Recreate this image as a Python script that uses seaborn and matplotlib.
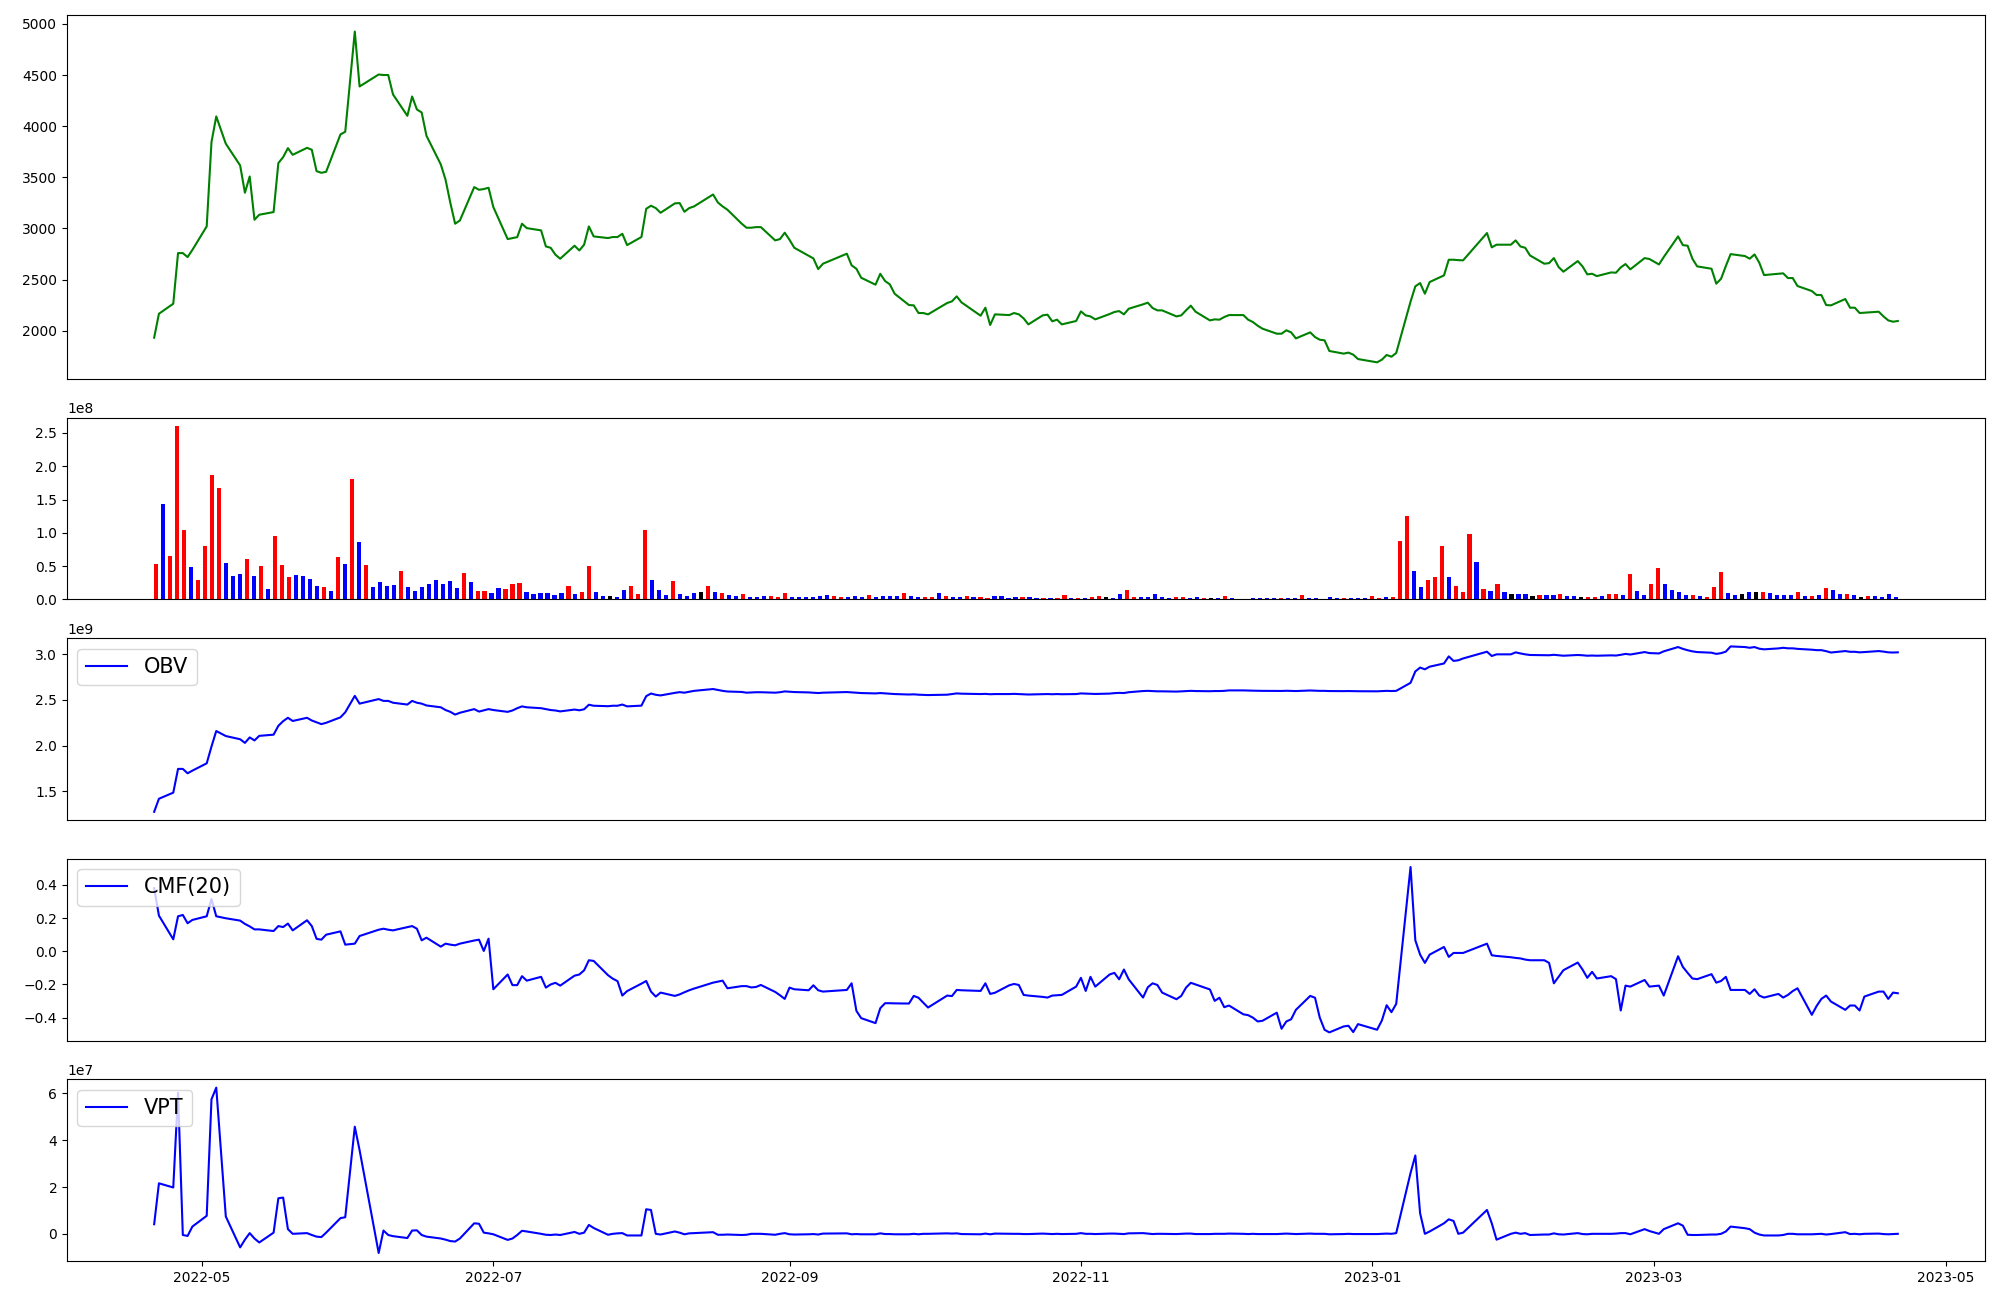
import pandas as pd
import seaborn as sns
import matplotlib
matplotlib.use("Agg")
import matplotlib.pyplot as plt

# KRX trading days, 2022-04-21 .. 2023-04-21
krx_holidays = ["2022-05-05", "2022-06-01", "2022-06-06", "2022-08-15", "2022-09-09",
                "2022-09-12", "2022-10-03", "2022-10-10", "2022-12-30", "2023-01-23",
                "2023-01-24", "2023-03-01"]
dates = pd.bdate_range("2022-04-21", "2023-04-21", freq="C", holidays=krx_holidays)

# closing price
close = [
    1932, 2166, 2264, 2759, 2759, 2720, 2790,
    3020, 3844, 4095, 3828, 3616, 3349, 3508, 3085, 3134, 3160, 3639, 3697, 3785, 3720, 3788, 3769, 3560, 3544, 3554, 3919, 3945,
    4925, 4388, 4505, 4500, 4500, 4310, 4101, 4290, 4163, 4134, 3906, 3626, 3476, 3250, 3046, 3078, 3404, 3378, 3385, 3398,
    3209, 2896, 2905, 2915, 3046, 3003, 2981, 2824, 2811, 2743, 2704, 2831, 2785, 2841, 3020, 2922, 2906, 2916, 2916, 2948, 2837,
    2916, 3192, 3222, 3199, 3153, 3245, 3248, 3163, 3199, 3215, 3332, 3254, 3215, 3183, 3046, 3007, 3007, 3013, 3013, 2883, 2896, 2958,
    2889, 2811, 2733, 2707, 2603, 2655, 2753, 2639, 2606, 2518, 2450, 2557, 2486, 2453, 2362, 2251, 2248, 2173, 2173, 2160,
    2271, 2287, 2336, 2277, 2147, 2225, 2056, 2160, 2153, 2173, 2160, 2121, 2062, 2150, 2157, 2092, 2108, 2062, 2095,
    2189, 2150, 2140, 2111, 2163, 2183, 2192, 2160, 2215, 2258, 2274, 2222, 2199, 2199, 2140, 2150, 2199, 2245, 2186, 2101, 2111, 2108,
    2134, 2153, 2153, 2108, 2085, 2049, 2020, 1971, 1971, 2004, 1984, 1925, 1984, 1938, 1912, 1906, 1802, 1776, 1786, 1766, 1723,
    1691, 1717, 1763, 1746, 1782, 2284, 2434, 2466, 2362, 2476, 2541, 2694, 2694, 2690, 2688, 2955, 2815, 2841, 2841, 2883,
    2824, 2811, 2736, 2655, 2661, 2710, 2622, 2577, 2681, 2629, 2551, 2557, 2534, 2570, 2567, 2619, 2652, 2600, 2710, 2701,
    2648, 2720, 2922, 2837, 2831, 2704, 2629, 2606, 2460, 2508, 2632, 2749, 2730, 2704, 2746, 2665, 2544, 2557, 2561, 2515, 2515, 2437,
    2388, 2349, 2349, 2251, 2248, 2310, 2225, 2225, 2173, 2176, 2186, 2140, 2101, 2088, 2095,
]

# volume (x1e8) and candle colour: r = up, b = down, k = flat
volume = [
    0.53, 1.43, 0.65, 2.60, 1.04, 0.485, 0.29, 0.80, 1.865, 1.67,
    0.545, 0.35, 0.38, 0.605, 0.35, 0.50, 0.155, 0.95, 0.515, 0.335,
    0.365, 0.35, 0.305, 0.20, 0.185, 0.125, 0.635, 0.53, 1.805, 0.86,
    0.515, 0.185, 0.26, 0.20, 0.215, 0.425, 0.185, 0.125, 0.185, 0.23,
    0.29, 0.23, 0.275, 0.17, 0.395, 0.26, 0.125, 0.125, 0.095, 0.17,
    0.155, 0.23, 0.245, 0.11, 0.08, 0.095, 0.095, 0.065, 0.095, 0.20,
    0.08, 0.11, 0.50, 0.11, 0.05, 0.05, 0.035, 0.14, 0.20, 0.08,
    1.04, 0.29, 0.14, 0.065, 0.275, 0.08, 0.05, 0.095, 0.11, 0.20,
    0.11, 0.095, 0.065, 0.05, 0.08, 0.035, 0.035, 0.05, 0.05, 0.035,
    0.095, 0.035, 0.035, 0.035, 0.035, 0.05, 0.065, 0.05, 0.035, 0.035,
    0.05, 0.035, 0.065, 0.035, 0.05, 0.05, 0.05, 0.095, 0.05, 0.035,
    0.035, 0.035, 0.095, 0.05, 0.035, 0.035, 0.05, 0.035, 0.035, 0.02,
    0.05, 0.05, 0.02, 0.035, 0.035, 0.035, 0.02, 0.02, 0.02, 0.02,
    0.065, 0.02, 0.02, 0.02, 0.035, 0.05, 0.035, 0.02, 0.08, 0.14,
    0.035, 0.035, 0.035, 0.08, 0.035, 0.02, 0.035, 0.035, 0.02, 0.035,
    0.02, 0.02, 0.02, 0.05, 0.02, 0.005, 0.005, 0.02, 0.02, 0.02,
    0.02, 0.02, 0.02, 0.02, 0.065, 0.02, 0.02, 0.005, 0.035, 0.02,
    0.02, 0.02, 0.02, 0.02, 0.05, 0.02, 0.035, 0.035, 0.875, 1.25,
    0.425, 0.185, 0.29, 0.335, 0.80, 0.335, 0.20, 0.11, 0.98, 0.56,
    0.155, 0.125, 0.23, 0.11, 0.08, 0.08, 0.08, 0.05, 0.065, 0.065,
    0.065, 0.08, 0.05, 0.05, 0.035, 0.035, 0.035, 0.05, 0.08, 0.08,
    0.065, 0.38, 0.125, 0.065, 0.23, 0.47, 0.23, 0.14, 0.11, 0.065,
    0.065, 0.05, 0.035, 0.185, 0.41, 0.095, 0.065, 0.08, 0.11, 0.11,
    0.11, 0.095, 0.065, 0.065, 0.065, 0.11, 0.05, 0.05, 0.065, 0.17,
    0.14, 0.08, 0.08, 0.065, 0.035, 0.05, 0.05, 0.035, 0.08, 0.035,
]
candle = ("rbrrrbrrrr" "bbbrbrbrrr" "bbbbrbrbrb" "rbbbbrbbbb" "bbbbrbrrbb"
          "rrrbbbbbbr" "brrbbkbbrr" "rbbbrbbbkr" "brbbrbbbrr" "rbbbbbbrrb"
          "bbrbbbbrbb" "rrbrbbrbrr" "bbbbrbbrbr" "rbrbrrkbbr" "rbbbbbrrbb"
          "rkbrbbbbbb" "brbbrbbbbb" "rbbbrrbrrr" "bbrrrbrrrb" "rbrbkbbkrb"
          "brbbkrrbrr" "brbbrrbbbb" "rbrrrbbkbk" "rbbbbrbrbr" "bbrbkrbbbb")

# on-balance volume (x1e9)
obv = [
    1.275, 1.418, 1.485, 1.745, 1.745, 1.697, 1.726,
    1.806, 1.99, 2.16, 2.105, 2.07, 2.03, 2.09, 2.057, 2.107, 2.12, 2.217, 2.268, 2.305, 2.27, 2.305, 2.275, 2.255, 2.236, 2.25, 2.31, 2.365,
    2.545, 2.46, 2.51, 2.49, 2.49, 2.47, 2.45, 2.49, 2.47, 2.46, 2.44, 2.42, 2.39, 2.37, 2.34, 2.36, 2.40, 2.373, 2.386, 2.40,
    2.39, 2.37, 2.385, 2.41, 2.43, 2.42, 2.41, 2.40, 2.39, 2.385, 2.375, 2.395, 2.387, 2.398, 2.448, 2.437, 2.432, 2.437, 2.437, 2.45, 2.43,
    2.438, 2.542, 2.571, 2.557, 2.55, 2.578, 2.586, 2.58, 2.59, 2.60, 2.62, 2.61, 2.60, 2.593, 2.588, 2.58, 2.583, 2.585, 2.585, 2.58, 2.585, 2.594,
    2.59, 2.587, 2.583, 2.58, 2.576, 2.58, 2.587, 2.583, 2.58, 2.576, 2.572, 2.576, 2.572, 2.569, 2.565, 2.56, 2.562, 2.558, 2.556, 2.554,
    2.558, 2.565, 2.572, 2.569, 2.565, 2.567, 2.563, 2.565, 2.565, 2.567, 2.565, 2.563, 2.56, 2.563, 2.565, 2.563, 2.565, 2.563, 2.565,
    2.572, 2.57, 2.568, 2.566, 2.57, 2.575, 2.578, 2.576, 2.585, 2.598, 2.60, 2.597, 2.595, 2.595, 2.592, 2.595, 2.598, 2.60, 2.598, 2.596, 2.598, 2.598,
    2.60, 2.605, 2.605, 2.603, 2.602, 2.601, 2.60, 2.599, 2.599, 2.601, 2.60, 2.598, 2.604, 2.602, 2.60, 2.60, 2.598, 2.597, 2.598, 2.597, 2.596,
    2.595, 2.597, 2.60, 2.598, 2.60, 2.688, 2.813, 2.855, 2.836, 2.865, 2.90, 2.978, 2.928, 2.935, 2.955, 3.029, 2.982, 3.0, 3.0, 3.022,
    3.01, 3.0, 2.993, 2.99, 2.99, 2.995, 2.99, 2.985, 2.993, 2.99, 2.985, 2.987, 2.985, 2.989, 2.987, 2.995, 3.005, 2.998, 3.025, 3.014,
    3.01, 3.033, 3.08, 3.06, 3.045, 3.033, 3.025, 3.018, 3.005, 3.013, 3.03, 3.087, 3.08, 3.072, 3.08, 3.062, 3.055, 3.065, 3.072, 3.066, 3.066, 3.06,
    3.051, 3.046, 3.046, 3.035, 3.02, 3.036, 3.028, 3.028, 3.022, 3.025, 3.036, 3.03, 3.022, 3.02, 3.022,
]

# Chaikin money flow, 20 days
cmf = [
    0.38, 0.215, 0.072, 0.211, 0.219, 0.169, 0.189,
    0.211, 0.315, 0.211, 0.199, 0.185, 0.165, 0.15, 0.132, 0.132, 0.122, 0.152, 0.146, 0.167, 0.126, 0.187, 0.152, 0.075, 0.07, 0.10, 0.12, 0.04,
    0.046, 0.092, 0.13, 0.136, 0.13, 0.126, 0.145, 0.152, 0.136, 0.066, 0.082, 0.028, 0.046, 0.04, 0.036, 0.046, 0.065, 0.07, 0.002, 0.076,
    -0.229, -0.14, -0.204, -0.204, -0.15, -0.177, -0.154, -0.219, -0.20, -0.19, -0.207, -0.147, -0.14, -0.115, -0.054, -0.058, -0.144, -0.165, -0.18, -0.267, -0.24,
    -0.195, -0.179, -0.243, -0.273, -0.249, -0.269, -0.26, -0.247, -0.235, -0.225, -0.189, -0.183, -0.177, -0.223, -0.21, -0.21, -0.218, -0.215, -0.203, -0.245, -0.265, -0.287,
    -0.219, -0.229, -0.235, -0.205, -0.235, -0.243, -0.233, -0.193, -0.359, -0.403, -0.433, -0.343, -0.313, -0.313, -0.314, -0.315, -0.269, -0.28, -0.31, -0.339,
    -0.267, -0.27, -0.233, -0.235, -0.239, -0.193, -0.257, -0.25, -0.205, -0.197, -0.203, -0.263, -0.267, -0.275, -0.279, -0.267, -0.265, -0.263, -0.213,
    -0.160, -0.239, -0.154, -0.213, -0.14, -0.13, -0.169, -0.11, -0.169, -0.279, -0.217, -0.193, -0.203, -0.249, -0.289, -0.269, -0.219, -0.19, -0.20, -0.23, -0.299, -0.28,
    -0.337, -0.327, -0.38, -0.385, -0.40, -0.423, -0.419, -0.37, -0.467, -0.423, -0.41, -0.353, -0.269, -0.28, -0.40, -0.473, -0.489, -0.453, -0.449, -0.487, -0.439,
    -0.473, -0.417, -0.325, -0.367, -0.317, 0.508, 0.066, -0.02, -0.07, -0.02, 0.026, -0.034, -0.01, -0.01, -0.01, 0.046, -0.024, -0.028, -0.036, -0.04,
    -0.043, -0.05, -0.054, -0.054, -0.07, -0.193, -0.154, -0.114, -0.068, -0.11, -0.16, -0.124, -0.164, -0.15, -0.168, -0.357, -0.207, -0.213, -0.173, -0.213,
    -0.207, -0.267, -0.03, -0.094, -0.13, -0.164, -0.168, -0.138, -0.189, -0.179, -0.154, -0.233, -0.233, -0.257, -0.229, -0.267, -0.279, -0.257, -0.279, -0.263, -0.24, -0.223,
    -0.383, -0.33, -0.287, -0.267, -0.303, -0.353, -0.327, -0.327, -0.357, -0.273, -0.243, -0.243, -0.287, -0.249, -0.253,
]

# volume price trend (x1e7)
vpt = [
    0.41, 2.16, 1.98, 6.03, -0.05, -0.09, 0.31,
    0.77, 5.75, 6.25, 0.74, -0.58, -0.25, 0.03, -0.2, -0.37, 0.05, 1.52, 1.55, 0.2, 0.0, 0.03, -0.05, -0.12, -0.14, 0.05, 0.67, 0.71,
    4.58, 3.58, -0.82, 0.14, -0.05, -0.1, -0.18, 0.14, 0.15, -0.05, -0.12, -0.2, -0.25, -0.31, -0.33, -0.2, 0.45, 0.43, 0.05, 0.02,
    -0.02, -0.26, -0.2, -0.05, 0.13, 0.1, 0.0, -0.04, -0.05, -0.03, -0.05, 0.08, 0.0, 0.05, 0.38, 0.25, -0.04, 0.0, 0.02, 0.03, -0.07,
    -0.07, 1.05, 1.02, 0.0, -0.03, 0.1, 0.05, -0.02, 0.02, 0.03, 0.07, -0.04, -0.04, -0.03, -0.05, -0.04, 0.0, 0.0, 0.0, -0.04, 0.0, 0.03,
    -0.02, -0.03, -0.02, -0.01, -0.03, 0.01, 0.02, -0.02, -0.01, -0.02, -0.02, 0.02, -0.01, -0.01, -0.02, -0.02, 0.0, -0.02, 0.0, 0.0,
    0.02, 0.01, 0.02, -0.01, -0.02, 0.01, -0.02, 0.01, 0.0, 0.0, 0.0, -0.01, -0.01, 0.01, 0.0, -0.01, 0.0, -0.01, 0.0,
    0.03, 0.0, 0.0, -0.01, 0.01, 0.01, 0.0, -0.01, 0.02, 0.03, 0.01, -0.01, 0.0, 0.0, -0.01, 0.0, 0.01, 0.01, -0.01, -0.01, 0.0, 0.0,
    0.0, 0.01, 0.0, -0.01, 0.0, -0.01, -0.01, -0.01, 0.0, 0.01, 0.0, -0.01, 0.01, 0.0, 0.0, 0.0, -0.02, -0.01, 0.0, -0.01, -0.01,
    -0.01, 0.0, 0.01, 0.0, 0.03, 2.6, 3.35, 0.88, 0.0, 0.1, 0.45, 0.62, 0.55, 0.0, 0.05, 1.02, 0.45, -0.25, 0.0, 0.05,
    0.0, 0.03, -0.05, -0.03, -0.03, 0.02, -0.02, -0.03, 0.03, -0.01, -0.02, 0.0, 0.0, 0.0, 0.01, 0.03, 0.03, -0.02, 0.2, 0.12,
    0.0, 0.2, 0.45, 0.35, -0.04, -0.05, -0.05, -0.03, -0.03, 0.0, 0.1, 0.31, 0.24, 0.2, 0.05, -0.03, -0.07, -0.07, -0.05, 0.0, 0.0, -0.02,
    -0.02, -0.01, 0.0, -0.03, -0.01, 0.07, -0.01, 0.0, -0.02, 0.0, 0.01, -0.01, -0.02, -0.01, 0.0,
]

color_map = {"r": "red", "b": "blue", "k": "black"}
bar_colors = [color_map[c] for c in candle]

fig, axes = plt.subplots(5, 1, figsize=(20, 13), gridspec_kw={"height_ratios": [2, 1, 1, 1, 1]})

# prezzo
sns.lineplot(x=dates, y=close, ax=axes[0], color="g")

# volume as evenly spaced bars
axes[1].bar(range(len(volume)), [v * 1e8 for v in volume], width=0.6, color=bar_colors)

# indicatori
sns.lineplot(x=dates, y=[v * 1e9 for v in obv], ax=axes[2], color="b", label="OBV")
sns.lineplot(x=dates, y=cmf, ax=axes[3], color="b", label="CMF(20)")
sns.lineplot(x=dates, y=[v * 1e7 for v in vpt], ax=axes[4], color="b", label="VPT")

for ax in axes[2:]:
    ax.legend(loc="upper left", fontsize=15)

for ax in axes:
    ax.set_xlabel("")
    ax.set_ylabel("")
for ax in axes[:4]:
    ax.set_xticks([])

plt.tight_layout()
plt.savefig("out.png", dpi=100)
